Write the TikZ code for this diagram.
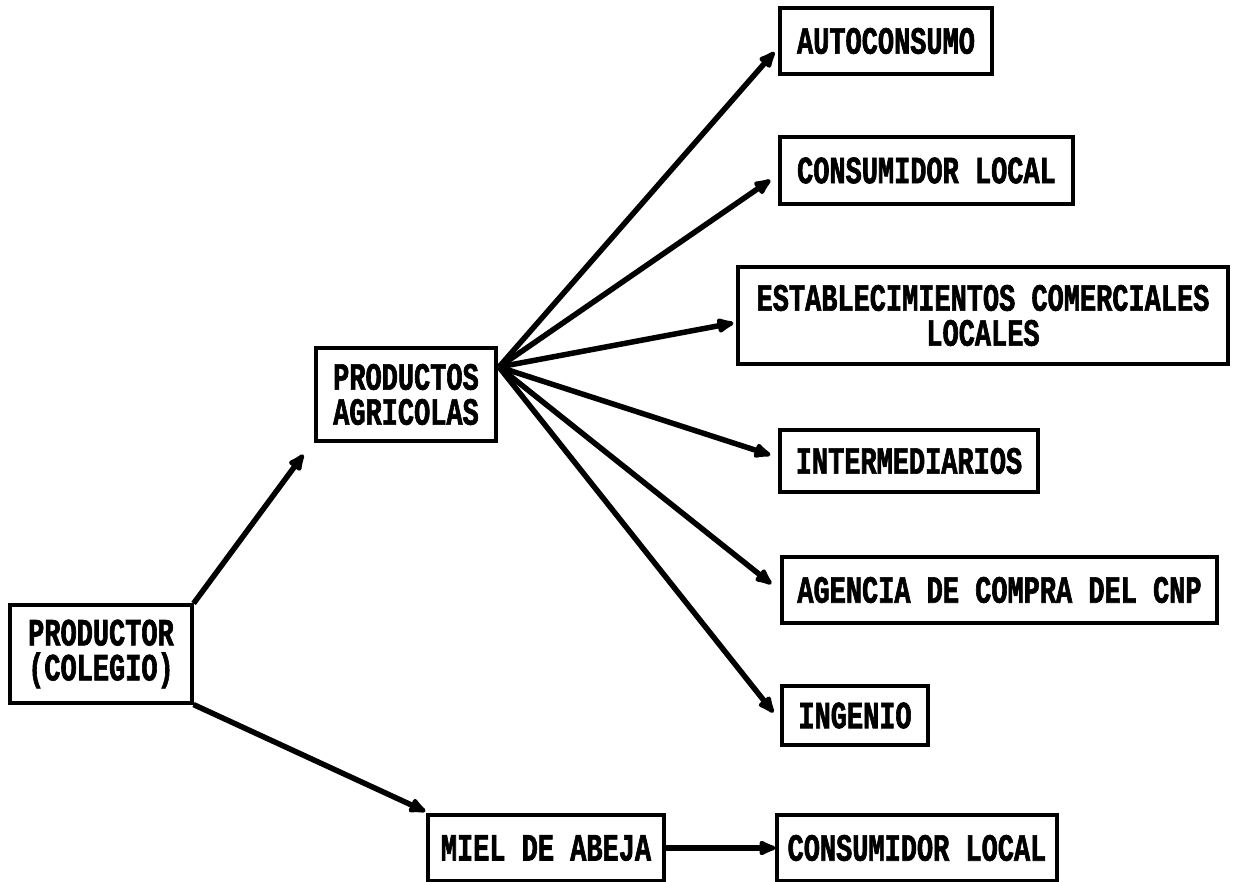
\documentclass[tikz,border=0pt]{standalone}
\usepackage{fontspec}
\newfontfamily\twfont{Liberation Mono}[FakeStretch=0.7,FakeBold=1.6]
\usetikzlibrary{arrows.meta}
\begin{document}
\begin{tikzpicture}[x=1pt,y=-1pt,
  box/.style={draw,line width=3.2pt,inner sep=0pt,align=center,
    font=\twfont\bfseries\fontsize{38.5}{35}\selectfont},
  flow/.style={line width=5.5pt,-{Latex[length=22pt,width=18pt,round]}}]
  \useasboundingbox (0,0) rectangle (1237,882);

  % origin of the chain
  \node[box,minimum width=182pt,minimum height=98pt] (prod) at (101,654) {PRODUCTOR\\(COLEGIO)};
  % products
  \node[box,minimum width=180pt,minimum height=93pt] (agr) at (406,394.5) {PRODUCTOS\\AGRICOLAS};
  \node[box,minimum width=236pt,minimum height=66pt] (miel) at (546,848) {MIEL DE ABEJA};
  % destinations of the farm products
  \node[box,minimum width=212pt,minimum height=66pt] (auto) at (886,41) {AUTOCONSUMO};
  \node[box,minimum width=293pt,minimum height=67pt] (cons1) at (926.5,170.5) {CONSUMIDOR LOCAL};
  \node[box,minimum width=490pt,minimum height=97pt] (est) at (983,315.5) {ESTABLECIMIENTOS COMERCIALES\\LOCALES};
  \node[box,minimum width=258pt,minimum height=62pt] (inter) at (909,461) {INTERMEDIARIOS};
  \node[box,minimum width=435pt,minimum height=66pt] (agen) at (999.5,590) {AGENCIA DE COMPRA DEL CNP};
  \node[box,minimum width=146pt,minimum height=59pt] (ing) at (855,715.5) {INGENIO};
  % destination of the honey
  \node[box,minimum width=280pt,minimum height=66pt] (cons2) at (917,848) {CONSUMIDOR LOCAL};

  % common start of the fan of arrows
  \coordinate (fan) at (499,367);

  \draw[flow] (prod.north east) -- ([xshift=-11pt,yshift=-12pt]agr.south west);
  \draw[flow] (prod.south east) -- ([xshift=-1pt,yshift=2pt]miel.north west);
  \draw[flow] (miel.east) -- (cons2.west);

  \draw[flow] (fan) -- ([xshift=-4pt,yshift=-11pt]auto.west);
  \draw[flow] (fan) -- ([xshift=-8pt,yshift=-9.5pt]cons1.west);
  \draw[flow] (fan) -- ([xshift=-3pt,yshift=-7.5pt]est.west);
  \draw[flow] (fan) -- ([xshift=-8pt,yshift=6pt]inter.west);
  \draw[flow] (fan) -- ([xshift=-9pt,yshift=6pt]agen.west);
  \draw[flow] (fan) -- ([xshift=-7pt,yshift=3pt]ing.west);
\end{tikzpicture}
\end{document}
